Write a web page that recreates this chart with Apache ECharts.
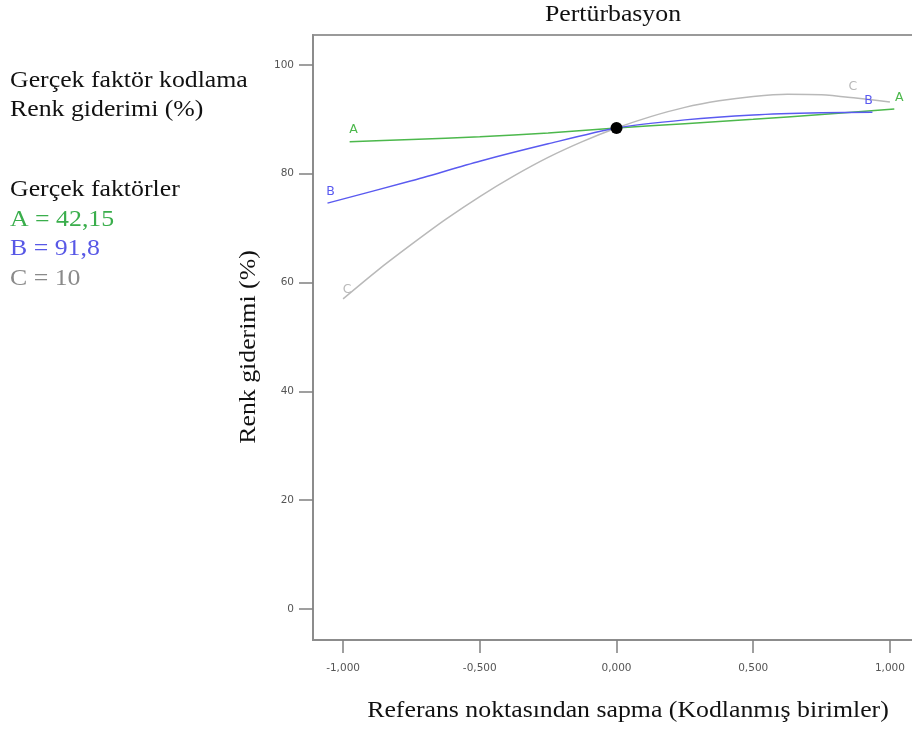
<!DOCTYPE html>
<html>
<head>
<meta charset="utf-8">
<script src="https://cdn.jsdelivr.net/npm/echarts@6/dist/echarts.min.js"></script>
<style>
  html, body { margin: 0; padding: 0; background: #fff; }
  #chart { width: 912px; height: 731px; }
</style>
</head>
<body>
<div id="chart"></div>
<script>
// Perturbation curves: deviation from the reference point (coded units) vs. colour removal (%)
const xTicks = [-1, -0.5, 0, 0.5, 1];
const yTicks = [0, 20, 40, 60, 80, 100];

const devA = [-0.976, -0.75, -0.5, -0.25, 0, 0.25, 0.5, 0.75, 1.016];
const valA = [85.9, 86.3, 86.8, 87.5, 88.4, 89.2, 90.0, 90.9, 91.9];

const devB = [-1.057, -0.75, -0.5, -0.25, 0, 0.25, 0.5, 0.75, 0.936];
const valB = [74.6, 78.7, 82.3, 85.5, 88.4, 89.9, 90.8, 91.2, 91.3];

const devC = [-1.0, -0.875, -0.75, -0.625, -0.5, -0.375, -0.25, -0.125, 0,
              0.125, 0.25, 0.375, 0.5, 0.625, 0.75, 0.875, 1.0];
const valC = [57.0, 62.2, 67.0, 71.6, 75.8, 79.6, 83.0, 85.9, 88.4,
              90.5, 92.2, 93.4, 94.2, 94.6, 94.5, 93.9, 93.2];

const refPoint = [0, 88.4];

const factorNames = ['A', 'B', 'C'];
const factorValues = ['42,15', '91,8', '10'];

const colA = '#4cb84c', colB = '#5a5af0', colC = '#b9b9b9';
const txtA = '#3aae4c', txtB = '#5858e6', txtC = '#8a8a8a';

const serif = '"Liberation Serif", "Times New Roman", serif';
const sans = '"DejaVu Sans", sans-serif';

// Build line data; selected points carry the factor letter as a label
function buildData(xs, ys, labels) {
  return xs.map((x, i) => {
    const item = { value: [x, ys[i]] };
    if (labels[i]) {
      item.label = { show: true, formatter: labels[i].text, position: 'top', offset: labels[i].offset };
    }
    return item;
  });
}

const dataA = buildData(devA, valA, { 0: { text: 'A', offset: [4, 0] }, 8: { text: 'A', offset: [5, 0] } });
const dataB = buildData(devB, valB, { 0: { text: 'B', offset: [3, 0] }, 8: { text: 'B', offset: [-4, 0] } });
const dataC = buildData(devC, valC, { 0: { text: 'C', offset: [4, 2] }, 15: { text: 'C', offset: [-3, 0] } });

function lineSeries(name, data, color) {
  return {
    name: name,
    type: 'line',
    data: data,
    smooth: 0.25,
    showSymbol: true,
    symbol: 'circle',
    symbolSize: 0,
    silent: true,
    lineStyle: { color: color, width: 1.5 },
    itemStyle: { color: color },
    label: { show: false, color: color, fontFamily: sans, fontSize: 12.5 },
    emphasis: { disabled: true }
  };
}

const fmt = v => v.toFixed(3).replace('.', ',');
const SX = 1.075;

function txt(x, y, text, color, opts) {
  return Object.assign({
    type: 'text',
    x: x, y: y,
    scaleX: SX,
    style: {
      text: text,
      fill: color,
      font: '24px ' + serif,
      verticalAlign: 'middle',
      align: 'left'
    }
  }, opts || {});
}

const chart = echarts.init(document.getElementById('chart'), null, { renderer: 'canvas' });

chart.setOption({
  animation: false,
  backgroundColor: '#ffffff',
  grid: {
    left: 313, top: 35, width: 607, height: 605,
    containLabel: false,
    outerBoundsMode: 'none',
    show: true,
    borderColor: '#9a9a9a',
    borderWidth: 2,
    backgroundColor: 'transparent'
  },
  xAxis: {
    type: 'value',
    min: -1.11, max: 1.11,
    splitLine: { show: false },
    axisLine: { show: true, onZero: false, lineStyle: { color: '#8c8c8c', width: 2 } },
    axisTick: { show: true, customValues: xTicks, length: 13, lineStyle: { color: '#808080', width: 1.5 } },
    axisLabel: { show: true, customValues: xTicks, formatter: fmt, margin: 23, color: '#555', fontFamily: sans, fontSize: 10.5 }
  },
  yAxis: {
    type: 'value',
    min: -5.7, max: 105.5,
    splitLine: { show: false },
    axisLine: { show: true, onZero: false, lineStyle: { color: '#8c8c8c', width: 2 } },
    axisTick: { show: true, customValues: yTicks, length: 14, lineStyle: { color: '#808080', width: 1.5 } },
    axisLabel: { show: true, customValues: yTicks, formatter: v => String(v), margin: 19, color: '#555', fontFamily: sans, fontSize: 10.5 }
  },
  series: [
    lineSeries('C', dataC, colC),
    lineSeries('A', dataA, colA),
    lineSeries('B', dataB, colB),
    {
      name: 'ref',
      type: 'scatter',
      data: [refPoint],
      symbol: 'circle',
      symbolSize: 12,
      itemStyle: { color: '#000', opacity: 1 },
      silent: true,
      z: 10
    }
  ],
  graphic: [
    txt(613, 15, 'Pertürbasyon', '#111', { style: { text: 'Pertürbasyon', fill: '#111', font: '24px ' + serif, verticalAlign: 'middle', align: 'center' } }),
    txt(628, 711, 'Referans noktasından sapma (Kodlanmış birimler)', '#111', { style: { text: 'Referans noktasından sapma (Kodlanmış birimler)', fill: '#111', font: '24px ' + serif, verticalAlign: 'middle', align: 'center' } }),
    txt(249, 347, 'Renk giderimi (%)', '#111', { rotation: Math.PI / 2, style: { text: 'Renk giderimi (%)', fill: '#111', font: '24px ' + serif, verticalAlign: 'middle', align: 'center' } }),
    txt(10, 81, 'Gerçek faktör kodlama', '#111'),
    txt(10, 110, 'Renk giderimi (%)', '#111'),
    txt(10, 190, 'Gerçek faktörler', '#111'),
    txt(10, 220, factorNames[0] + ' = ' + factorValues[0], txtA),
    txt(10, 249, factorNames[1] + ' = ' + factorValues[1], txtB),
    txt(10, 279, factorNames[2] + ' = ' + factorValues[2], txtC)
  ]
});
</script>
</body>
</html>
